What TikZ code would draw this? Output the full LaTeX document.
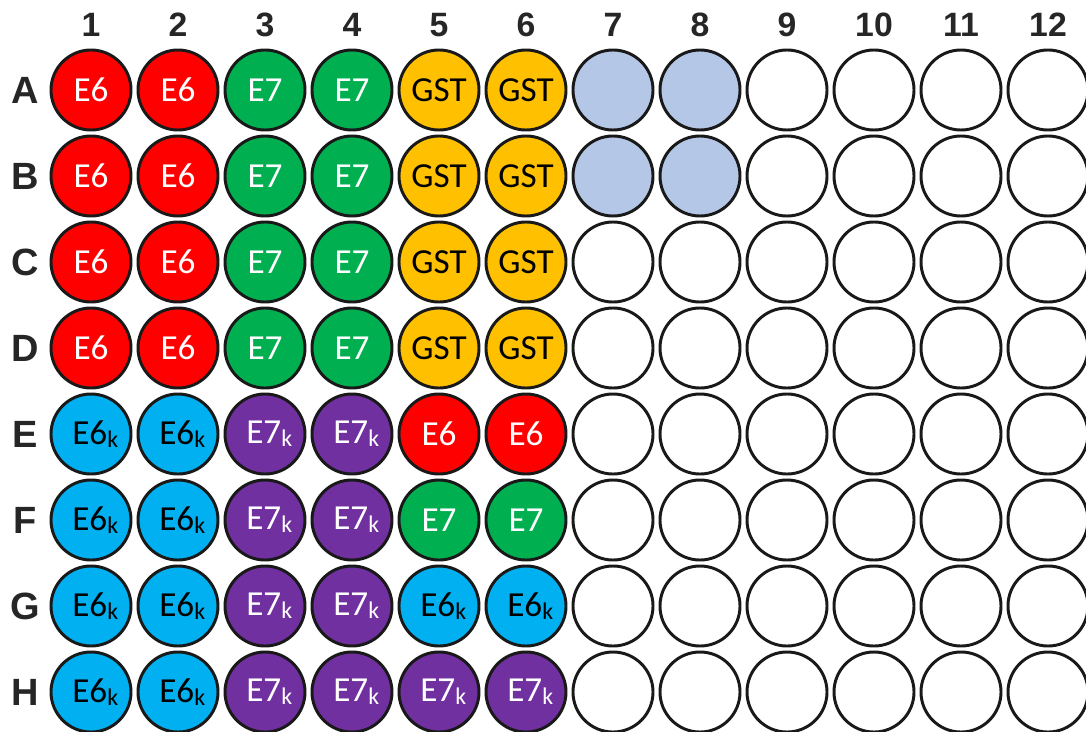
\documentclass[tikz,border=0pt]{standalone}
\usepackage{fontspec}
\setmainfont{Carlito}
\newfontfamily\headfont{Liberation Sans}
\usetikzlibrary{positioning}

\definecolor{wellred}{HTML}{FF0000}
\definecolor{wellgreen}{HTML}{00B050}
\definecolor{wellorange}{HTML}{FFC000}
\definecolor{wellcyan}{HTML}{00B0F0}
\definecolor{wellpurple}{HTML}{7030A0}
\definecolor{wellpale}{HTML}{B4C7E7}

% small k after E6 / E7
\newcommand{\ksub}{\raisebox{-0.08em}{\fontsize{17}{19}\selectfont k}}

\begin{document}
\begin{tikzpicture}[
  x=0.025cm, y=-0.025cm,
  head/.style={font=\headfont\bfseries\fontsize{24}{28}\selectfont, text=black!85},
  rowhead/.style={head, font=\headfont\bfseries\fontsize{27}{30}\selectfont},
  well/.style={
    circle, draw=black!90, line width=2.1pt, minimum size=2cm, inner sep=0pt,
    font=\fontsize{25}{28}\selectfont
  },
  empty/.style={well, fill=white},
  pale/.style={well, fill=wellpale},
  e6/.style={well, fill=wellred, text=white},
  e7/.style={well, fill=wellgreen, text=white},
  gst/.style={well, fill=wellorange, text=black},
  e6k/.style={well, fill=wellcyan, text=black, execute at begin node={\kern6pt}},
  e7k/.style={well, fill=wellpurple, text=white, execute at begin node={\kern6pt}}
]
\useasboundingbox (0,0) rectangle (1086,731);

% Column numbers
\foreach \c in {1,...,12}
  \node[head] (col\c) at ({91+87*(\c-1)}, 25) {\c};

% Plate rows: letter, centre line, wells
\foreach \row/\y/\wells in {
  A/90/{e6/E6, e6/E6, e7/E7, e7/E7, gst/GST, gst/GST, pale/, pale/, empty/, empty/, empty/, empty/},
  B/176/{e6/E6, e6/E6, e7/E7, e7/E7, gst/GST, gst/GST, pale/, pale/, empty/, empty/, empty/, empty/},
  C/262/{e6/E6, e6/E6, e7/E7, e7/E7, gst/GST, gst/GST, empty/, empty/, empty/, empty/, empty/, empty/},
  D/348/{e6/E6, e6/E6, e7/E7, e7/E7, gst/GST, gst/GST, empty/, empty/, empty/, empty/, empty/, empty/},
  E/434/{e6k/E6\ksub, e6k/E6\ksub, e7k/E7\ksub, e7k/E7\ksub, e6/E6, e6/E6, empty/, empty/, empty/, empty/, empty/, empty/},
  F/520/{e6k/E6\ksub, e6k/E6\ksub, e7k/E7\ksub, e7k/E7\ksub, e7/E7, e7/E7, empty/, empty/, empty/, empty/, empty/, empty/},
  G/606/{e6k/E6\ksub, e6k/E6\ksub, e7k/E7\ksub, e7k/E7\ksub, e6k/E6\ksub, e6k/E6\ksub, empty/, empty/, empty/, empty/, empty/, empty/},
  H/692/{e6k/E6\ksub, e6k/E6\ksub, e7k/E7\ksub, e7k/E7\ksub, e7k/E7\ksub, e7k/E7\ksub, empty/, empty/, empty/, empty/, empty/, empty/}%
}{
  \node[rowhead] (row\row) at (25, \y) {\row};
  \foreach \kind/\txt [count=\c] in \wells
    \node[\kind] (\row\c) at ({91+87*(\c-1)}, \y) {\txt};
}
\end{tikzpicture}
\end{document}
